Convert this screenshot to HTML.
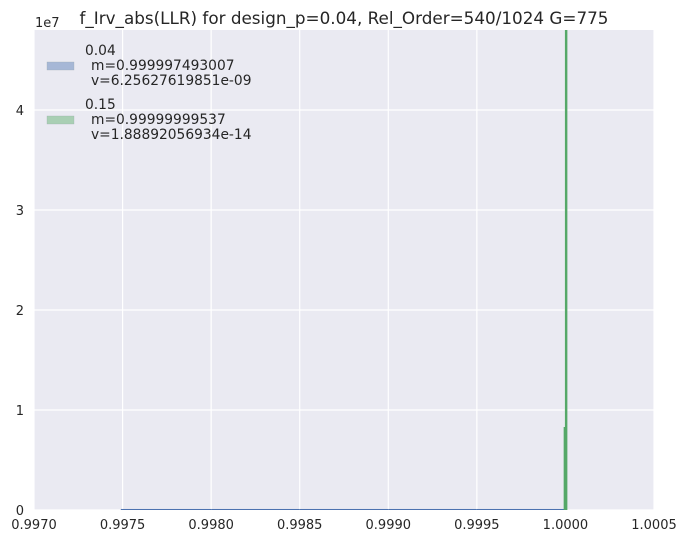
<!DOCTYPE html>
<html><head><meta charset="utf-8"><style>
body{margin:0;background:#fff;font-family:"Liberation Sans","DejaVu Sans",sans-serif}
svg text{font-family:"DejaVu Sans","Liberation Sans",sans-serif;fill:#262626}
</style></head><body>
<svg id="c" width="688" height="544"></svg>
<script>
const xTicks=[0.9970,0.9975,0.9980,0.9985,0.9990,0.9995,1.0000,1.0005];
const xTickLabels=["0.9970","0.9975","0.9980","0.9985","0.9990","0.9995","1.0000","1.0005"];
const yTicks=[0,1,2,3,4];
const blueBinStart=[0.99749,0.99800,0.99850,0.99900,0.99950];
const blueBinEnd=[0.99800,0.99850,0.99900,0.99950,0.999993];
const blueValues=[2000,2000,2000,2000,2000];
const greenBinStart=[0.999990,0.999997];
const greenBinEnd=[0.999997,1.000011];
const greenValues=[8.3e6,6.0e7];
const svg=document.getElementById('c');const NS='http://www.w3.org/2000/svg';
const L=34,R=654,T=30,B=510;
const xS=v=>L+(v-0.9970)/(0.0035)*(R-L);
const yS=v=>B-v/4.8e7*(B-T);
function mk(t,a,p){const e=document.createElementNS(NS,t);for(const k in a)e.setAttribute(k,a[k]);(p||svg).appendChild(e);return e;}
const bg=mk('rect',{x:L,y:T,width:R-L,height:B-T,fill:'#eaeaf2'});


xTicks.forEach((v,i)=>{const x=xS(v);
 const g=mk('line',{x1:x,x2:x,y1:T,y2:B,stroke:'#fff','stroke-width':1.2});
 
 
 const t=mk('text',{x:x,y:B+19,'text-anchor':'middle','font-size':13});t.textContent=xTickLabels[i];
 
 });
yTicks.forEach(v=>{const y=yS(v*1e7);
 const g=mk('line',{x1:L,x2:R,y1:y,y2:y,stroke:'#fff','stroke-width':1.2});
 
 
 const t=mk('text',{x:L-10,y:y+5,'text-anchor':'end','font-size':13});t.textContent=v;
 
 });
const clip=mk('clipPath',{id:'cp'});mk('rect',{x:L,y:T,width:R-L,height:B-T},clip);
const gp=mk('g',{'clip-path':'url(#cp)'});
blueValues.forEach((v,i)=>{const x1=xS(blueBinStart[i]),x2=xS(blueBinEnd[i]);
 const r=mk('rect',{x:x1,y:yS(v)-1,width:x2-x1,height:B-yS(v)+1,fill:'#4c72b0'},gp);
 
 });
greenValues.forEach((v,i)=>{const x1=xS(greenBinStart[i]),x2=xS(greenBinEnd[i]);
 const r=mk('rect',{x:x1,y:yS(v),width:Math.max(1.5,x2-x1),height:B-yS(v),fill:'#55a868'},gp);
 
 });
const tt=mk('text',{x:344,y:24,'text-anchor':'middle','font-size':16.8});tt.textContent='f_Irv_abs(LLR) for design_p=0.04, Rel_Order=540/1024 G=775';


const ex=mk('text',{x:35,y:27,'font-size':13});ex.textContent='1e7';


const leg=[['#a6b7d6','0.04','m=0.999997493007','v=6.25627619851e-09',55],['#a9cfb4','0.15','m=0.99999999537','v=1.88892056934e-14',109]];
leg.forEach(l=>{const g=mk('g',{});
 
 
 mk('rect',{x:47,y:l[4]+7,width:27,height:8,fill:l[0],stroke:'#9aa',"stroke-width":0.3},g);
 [l[1],l[2],l[3]].forEach((s,j)=>{const t=mk('text',{x:j?91:85,y:l[4]+j*15,'font-size':13.8},g);t.textContent=s;});});
</script>
</body></html>
